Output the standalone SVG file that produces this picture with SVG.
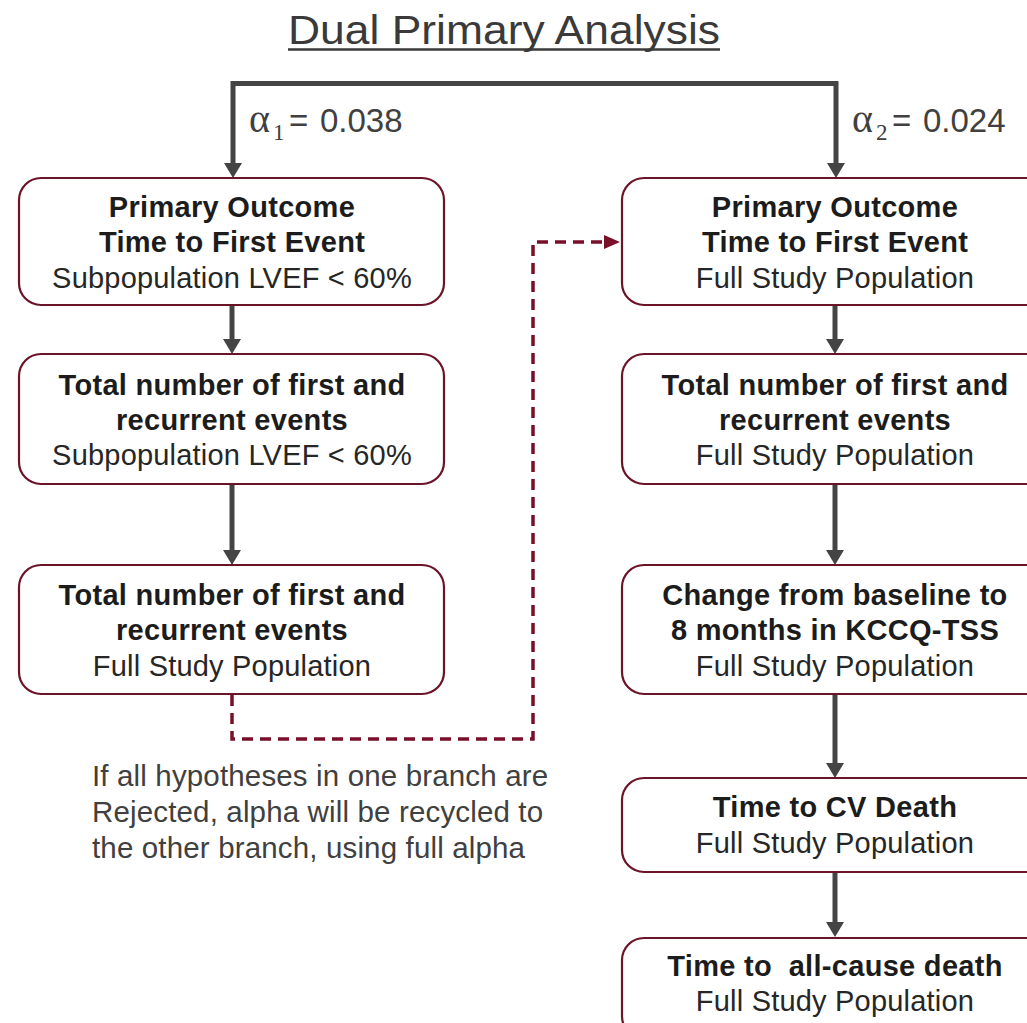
<svg xmlns="http://www.w3.org/2000/svg" width="1027" height="1023" viewBox="0 0 1027 1023">
<defs>
<style>
.box{fill:#ffffff;stroke:#6b1428;stroke-width:2.2}
.b{font-family:"Liberation Sans",Arial,sans-serif;font-size:29px;font-weight:bold;fill:#1c1c1c;text-anchor:middle;letter-spacing:0.3px}
.r{font-family:"Liberation Sans",Arial,sans-serif;font-size:29px;fill:#262626;text-anchor:middle;letter-spacing:0.2px}
.flow{fill:none;stroke:#444444;stroke-width:5}
.dash{fill:none;stroke:#7a0f2a;stroke-width:3.5;stroke-dasharray:11 7}
.note{font-family:"Liberation Sans",Arial,sans-serif;font-size:29.5px;fill:#404040;letter-spacing:0.15px}
.alpha{font-family:"Liberation Sans",Arial,sans-serif;font-size:33px;fill:#404040}
.greek{font-family:"Liberation Serif","Times New Roman",serif}
</style>
<marker id="ah" markerUnits="userSpaceOnUse" markerWidth="16" markerHeight="18" refX="4" refY="9" orient="auto-start-reverse">
<path d="M0,0 L15,9 L0,18 z" fill="#444444"/>
</marker>
<marker id="ahd" markerUnits="userSpaceOnUse" markerWidth="18" markerHeight="14" refX="2" refY="7" orient="auto">
<path d="M0,0 L16,7 L0,14 z" fill="#7a0f2a"/>
</marker>
</defs>
<rect width="1027" height="1023" fill="#ffffff"/>

<g id="title">
<text x="288" y="44" font-family="Liberation Sans, Arial, sans-serif" font-size="41" fill="#3a3a3a" textLength="432" lengthAdjust="spacingAndGlyphs">Dual Primary Analysis</text>
<line x1="288" y1="49.5" x2="720" y2="49.5" stroke="#3a3a3a" stroke-width="2.5"/>
</g>

<g id="connectors">
<path class="flow" d="M233,167 V83.5 H836 V167" marker-start="url(#ah)" marker-end="url(#ah)"/>
<path class="flow" d="M232,305 V343" marker-end="url(#ah)"/>
<path class="flow" d="M232,484 V554" marker-end="url(#ah)"/>
<path class="flow" d="M835,305 V343" marker-end="url(#ah)"/>
<path class="flow" d="M835,484 V554" marker-end="url(#ah)"/>
<path class="flow" d="M835,694 V767" marker-end="url(#ah)"/>
<path class="flow" d="M835,872 V926" marker-end="url(#ah)"/>
<path class="dash" d="M232,695 V739 H533 V242 H606" marker-end="url(#ahd)"/>
</g>

<g id="alpha1" class="alpha">
<text x="249" y="132" class="greek" font-size="40">α</text>
<text x="273" y="140" class="greek" font-size="23">1</text>
<text x="289" y="132">=</text>
<text x="320" y="132">0.038</text>
</g>
<g id="alpha2" class="alpha">
<text x="852" y="132" class="greek" font-size="40">α</text>
<text x="876" y="140" class="greek" font-size="23">2</text>
<text x="892" y="132">=</text>
<text x="923" y="132">0.024</text>
</g>

<g id="L1">
<rect class="box" x="19" y="178" width="425" height="127" rx="22"/>
<text class="b" x="232" y="217">Primary Outcome</text>
<text class="b" x="232" y="252">Time to First Event</text>
<text class="r" x="232" y="288">Subpopulation LVEF &lt; 60%</text>
</g>
<g id="L2">
<rect class="box" x="19" y="354" width="425" height="130" rx="22"/>
<text class="b" x="232" y="395">Total number of first and</text>
<text class="b" x="232" y="430">recurrent events</text>
<text class="r" x="232" y="465">Subpopulation LVEF &lt; 60%</text>
</g>
<g id="L3">
<rect class="box" x="19" y="565" width="425" height="129" rx="22"/>
<text class="b" x="232" y="605">Total number of first and</text>
<text class="b" x="232" y="640">recurrent events</text>
<text class="r" x="232" y="676">Full Study Population</text>
</g>

<g id="R1">
<rect class="box" x="622" y="178" width="426" height="127" rx="22"/>
<text class="b" x="835" y="217">Primary Outcome</text>
<text class="b" x="835" y="252">Time to First Event</text>
<text class="r" x="835" y="288">Full Study Population</text>
</g>
<g id="R2">
<rect class="box" x="622" y="354" width="426" height="130" rx="22"/>
<text class="b" x="835" y="395">Total number of first and</text>
<text class="b" x="835" y="430">recurrent events</text>
<text class="r" x="835" y="465">Full Study Population</text>
</g>
<g id="R3">
<rect class="box" x="622" y="565" width="426" height="129" rx="22"/>
<text class="b" x="835" y="605">Change from baseline to</text>
<text class="b" x="835" y="640">8 months in KCCQ-TSS</text>
<text class="r" x="835" y="676">Full Study Population</text>
</g>
<g id="R4">
<rect class="box" x="622" y="778" width="426" height="94" rx="22"/>
<text class="b" x="835" y="817">Time to CV Death</text>
<text class="r" x="835" y="853">Full Study Population</text>
</g>
<g id="R5">
<rect class="box" x="622" y="938" width="426" height="100" rx="22"/>
<text class="b" x="835" y="976" xml:space="preserve">Time to  all-cause death</text>
<text class="r" x="835" y="1011">Full Study Population</text>
</g>

<g id="note" class="note">
<text x="92" y="786">If all hypotheses in one branch are</text>
<text x="92" y="822">Rejected, alpha will be recycled to</text>
<text x="92" y="858">the other branch, using full alpha</text>
</g>
</svg>
